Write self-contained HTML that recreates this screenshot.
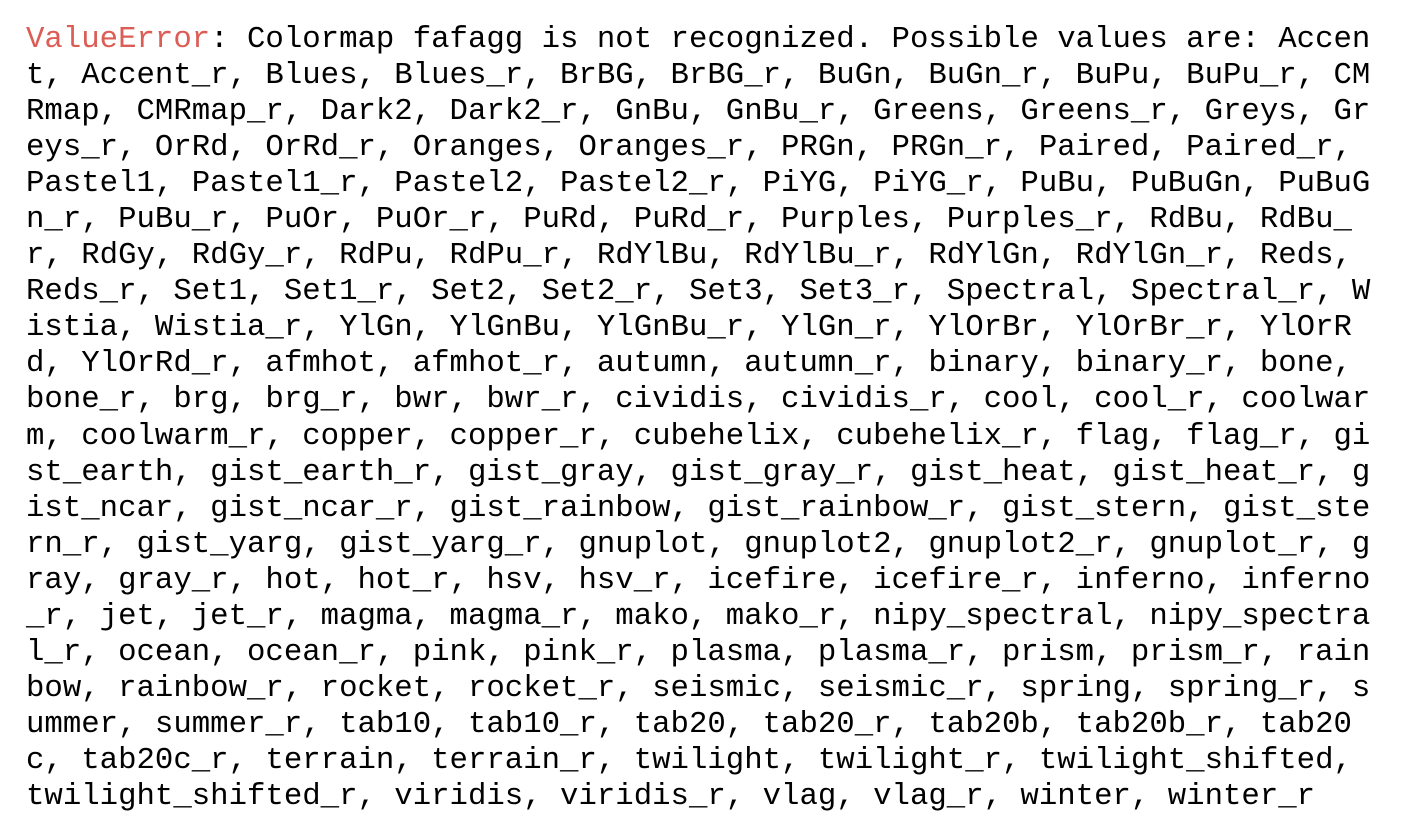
<!DOCTYPE html>
<html><head><meta charset="utf-8"><style>
html,body{margin:0;padding:0;background:#fff;width:1416px;height:834px;overflow:hidden}
pre{position:absolute;left:26px;top:22px;margin:0;font-family:"Liberation Mono",monospace;font-size:30.7px;line-height:36.05px;color:#000;white-space:pre}
.e{color:#dc5d55}
</style></head><body><pre><span class="e">ValueError</span>: Colormap fafagg is not recognized. Possible values are: Accen
t, Accent_r, Blues, Blues_r, BrBG, BrBG_r, BuGn, BuGn_r, BuPu, BuPu_r, CM
Rmap, CMRmap_r, Dark2, Dark2_r, GnBu, GnBu_r, Greens, Greens_r, Greys, Gr
eys_r, OrRd, OrRd_r, Oranges, Oranges_r, PRGn, PRGn_r, Paired, Paired_r, 
Pastel1, Pastel1_r, Pastel2, Pastel2_r, PiYG, PiYG_r, PuBu, PuBuGn, PuBuG
n_r, PuBu_r, PuOr, PuOr_r, PuRd, PuRd_r, Purples, Purples_r, RdBu, RdBu_
r, RdGy, RdGy_r, RdPu, RdPu_r, RdYlBu, RdYlBu_r, RdYlGn, RdYlGn_r, Reds, 
Reds_r, Set1, Set1_r, Set2, Set2_r, Set3, Set3_r, Spectral, Spectral_r, W
istia, Wistia_r, YlGn, YlGnBu, YlGnBu_r, YlGn_r, YlOrBr, YlOrBr_r, YlOrR
d, YlOrRd_r, afmhot, afmhot_r, autumn, autumn_r, binary, binary_r, bone, 
bone_r, brg, brg_r, bwr, bwr_r, cividis, cividis_r, cool, cool_r, coolwar
m, coolwarm_r, copper, copper_r, cubehelix, cubehelix_r, flag, flag_r, gi
st_earth, gist_earth_r, gist_gray, gist_gray_r, gist_heat, gist_heat_r, g
ist_ncar, gist_ncar_r, gist_rainbow, gist_rainbow_r, gist_stern, gist_ste
rn_r, gist_yarg, gist_yarg_r, gnuplot, gnuplot2, gnuplot2_r, gnuplot_r, g
ray, gray_r, hot, hot_r, hsv, hsv_r, icefire, icefire_r, inferno, inferno
_r, jet, jet_r, magma, magma_r, mako, mako_r, nipy_spectral, nipy_spectra
l_r, ocean, ocean_r, pink, pink_r, plasma, plasma_r, prism, prism_r, rain
bow, rainbow_r, rocket, rocket_r, seismic, seismic_r, spring, spring_r, s
ummer, summer_r, tab10, tab10_r, tab20, tab20_r, tab20b, tab20b_r, tab20
c, tab20c_r, terrain, terrain_r, twilight, twilight_r, twilight_shifted, 
twilight_shifted_r, viridis, viridis_r, vlag, vlag_r, winter, winter_r</pre></body></html>
